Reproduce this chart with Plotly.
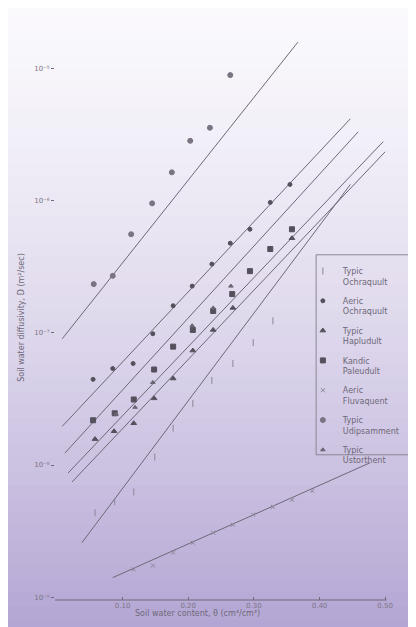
import plotly.graph_objects as go

# ---------------- data ----------------
series_names = [
    "Typic<br>Ochraquult",
    "Aeric<br>Ochraquult",
    "Typic<br>Hapludult",
    "Kandic<br>Paleudult",
    "Aeric<br>Fluvaquent",
    "Typic<br>Udipsamment",
    "Typic<br>Ustorthent",
]

# Typic Ochraquult (+)
och_theta = [0.058, 0.088, 0.117, 0.149, 0.177, 0.207, 0.236, 0.268, 0.299, 0.329]
och_D = [4.36e-9, 5.27e-9, 6.27e-9, 1.15e-8, 1.90e-8, 2.92e-8, 4.36e-8, 5.85e-8, 8.41e-8, 1.23e-7]
och_fit_theta = [0.038, 0.447]
och_fit_D = [2.59e-9, 1.32e-6]

# Aeric Ochraquult (dot)
aoc_theta = [0.055, 0.085, 0.116, 0.146, 0.177, 0.206, 0.236, 0.264, 0.294, 0.325, 0.355]
aoc_D = [4.44e-8, 5.36e-8, 5.85e-8, 9.82e-8, 1.60e-7, 2.25e-7, 3.30e-7, 4.75e-7, 6.05e-7, 9.66e-7, 1.32e-6]
aoc_fit_theta = [0.008, 0.447]
aoc_fit_D = [1.96e-8, 4.14e-6]

# Typic Hapludult (triangle)
hap_theta = [0.058, 0.087, 0.117, 0.148, 0.177, 0.207, 0.238, 0.268, 0.358]
hap_D = [1.57e-8, 1.80e-8, 2.07e-8, 3.19e-8, 4.51e-8, 7.33e-8, 1.05e-7, 1.54e-7, 5.18e-7]
hap_fit_theta = [0.023, 0.500]
hap_fit_D = [7.45e-9, 2.33e-6]

# Kandic Paleudult (square)
kan_theta = [0.055, 0.088, 0.117, 0.148, 0.177, 0.207, 0.238, 0.267, 0.294, 0.325, 0.358]
kan_D = [2.18e-8, 2.46e-8, 3.13e-8, 5.27e-8, 7.85e-8, 1.05e-7, 1.46e-7, 1.96e-7, 2.92e-7, 4.29e-7, 6.05e-7]
kan_fit_theta = [0.012, 0.459]
kan_fit_D = [1.23e-8, 3.30e-6]

# Aeric Fluvaquent (x)
flu_theta = [0.117, 0.146, 0.177, 0.207, 0.238, 0.268, 0.299, 0.329, 0.358, 0.389]
flu_D = [1.63e-9, 1.74e-9, 2.18e-9, 2.59e-9, 3.08e-9, 3.54e-9, 4.21e-9, 4.83e-9, 5.46e-9, 6.38e-9]
flu_fit_theta = [0.085, 0.477]
flu_fit_D = [1.41e-9, 1.04e-8]

# Typic Udipsamment (grey dot)
udi_theta = [0.056, 0.085, 0.113, 0.145, 0.175, 0.203, 0.233, 0.264]
udi_D = [2.33e-7, 2.69e-7, 5.55e-7, 9.5e-7, 1.63e-6, 2.82e-6, 3.54e-6, 8.85e-6]
udi_fit_theta = [0.008, 0.367]
udi_fit_D = [9.0e-8, 1.57e-5]

# Typic Ustorthent (small triangle)
ust_theta = [0.090, 0.119, 0.146, 0.206, 0.238, 0.265]
ust_D = [2.42e-8, 2.73e-8, 4.21e-8, 1.13e-7, 1.54e-7, 2.25e-7]
ust_fit_theta = [0.017, 0.497]
ust_fit_D = [8.71e-9, 2.78e-6]

x_tickvals = [0.10, 0.20, 0.30, 0.40, 0.50]
x_ticktext = ["0.10", "0.20", "0.30", "0.40", "0.50"]
y_tickvals = [1e-9, 1e-8, 1e-7, 1e-6, 1e-5]
y_ticktext = ["10⁻⁹", "10⁻⁸", "10⁻⁷", "10⁻⁶", "10⁻⁵"]

# ---------------- figure ----------------
DARK = "#55505c"
LIGHT = "#8c8696"
LINE = "#6e6878"
fig = go.Figure()

groups = [
    (och_theta, och_D, och_fit_theta, och_fit_D, series_names[0], "line-ns", LIGHT, 5),
    (aoc_theta, aoc_D, aoc_fit_theta, aoc_fit_D, series_names[1], "circle", DARK, 4),
    (hap_theta, hap_D, hap_fit_theta, hap_fit_D, series_names[2], "triangle-up", DARK, 5),
    (kan_theta, kan_D, kan_fit_theta, kan_fit_D, series_names[3], "square", DARK, 5),
    (flu_theta, flu_D, flu_fit_theta, flu_fit_D, series_names[4], "x-thin", LIGHT, 4),
    (udi_theta, udi_D, udi_fit_theta, udi_fit_D, series_names[5], "circle", "#7a7482", 5),
    (ust_theta, ust_D, ust_fit_theta, ust_fit_D, series_names[6], "triangle-up", "#6a6472", 4),
]

for th, d, fth, fd, name, sym, col, sz in groups:
    fig.add_trace(go.Scatter(x=fth, y=fd, mode="lines", showlegend=False,
                             line=dict(color=LINE, width=1), hoverinfo="skip"))
for i, (th, d, fth, fd, name, sym, col, sz) in enumerate(groups):
    fig.add_trace(go.Scatter(x=th, y=d, mode="markers", name=name, legendgroup=f"g{i}",
                             marker=dict(symbol=sym, size=sz, color=col,
                                         line=dict(color=col, width=1))))

# gradient background bands (paper coordinates covering the whole page)
top_rgb = (251, 250, 253)
bot_rgb = (180, 166, 212)
nb = 48
y0p, y1p = -0.06, 1.08
shapes = []
for i in range(nb):
    f = i / (nb - 1)
    w = f ** 1.4
    r = int(top_rgb[0] + (bot_rgb[0] - top_rgb[0]) * w)
    g = int(top_rgb[1] + (bot_rgb[1] - top_rgb[1]) * w)
    b = int(top_rgb[2] + (bot_rgb[2] - top_rgb[2]) * w)
    ya = y1p - (y1p - y0p) * i / nb
    yb = y1p - (y1p - y0p) * (i + 1) / nb
    shapes.append(dict(type="rect", xref="paper", yref="paper", x0=-0.25, x1=1.15,
                       y0=yb, y1=ya + 0.002, fillcolor=f"rgb({r},{g},{b})",
                       line=dict(width=0), layer="below"))
# axis lines
shapes.append(dict(type="line", xref="paper", yref="y", x0=0, x1=0,
                   y0=-9.015, y1=-4.97, line=dict(color=LINE, width=1)))
shapes.append(dict(type="line", xref="paper", yref="paper", x0=0, x1=0.975,
                   y0=0, y1=0, line=dict(color=LINE, width=1)))
# legend frame
shapes.append(dict(type="rect", xref="paper", yref="paper", x0=0.768, x1=1.08,
                   y0=0.257, y1=0.611, line=dict(color="#8c8696", width=1),
                   fillcolor="rgba(0,0,0,0)", layer="above"))

# the page adds an 8 px body margin, so the figure is 8 px smaller
fig.update_layout(
    width=408, height=619,
    margin=dict(l=47, r=21, t=27, b=27, autoexpand=False),
    paper_bgcolor="rgb(200,190,222)",
    plot_bgcolor="rgba(0,0,0,0)",
    shapes=shapes,
    font=dict(family="DejaVu Sans", size=7, color="#7a7484"),
    showlegend=True,
    legend=dict(x=0.729, y=0.603, xanchor="left", yanchor="top",
                borderwidth=0, bgcolor="rgba(0,0,0,0)", valign="top",
                font=dict(size=8, color="#6e6878"), itemsizing="trace",
                itemwidth=30, tracegroupgap=6),
    annotations=[dict(text="Soil water content, θ (cm³/cm³)", xref="paper", yref="paper",
                      x=0.418, y=-0.012, showarrow=False, yanchor="top",
                      font=dict(size=8, color="#6e6878"))],
)
fig.update_xaxes(range=[-0.003, 0.515], showgrid=False, zeroline=False, showline=False,
                 automargin=False,
                 tickvals=x_tickvals, ticktext=x_ticktext, ticks="inside", ticklen=3,
                 tickcolor=LINE)
fig.update_yaxes(type="log", range=[-9.02, -4.75], showgrid=False, zeroline=False,
                 showline=False, automargin=False,
                 tickvals=y_tickvals, ticktext=y_ticktext,
                 ticks="outside", ticklen=3, tickcolor=LINE,
                 title=dict(text="Soil water diffusivity, D (m²/sec)", standoff=8,
                            font=dict(size=8, color="#6e6878")))

fig.write_html("out.html")
